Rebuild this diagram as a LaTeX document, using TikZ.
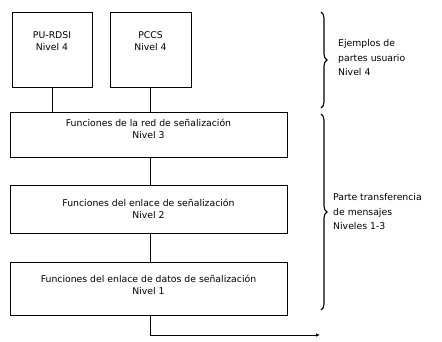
\documentclass[tikz,border=0pt]{standalone}
\usepackage{fontspec}
\setmainfont{DejaVu Sans}
\usetikzlibrary{decorations.pathreplacing,arrows.meta}
\begin{document}
\begin{tikzpicture}[x=1pt,y=-1pt,
  box/.style={draw,line width=0.9pt,rectangle,inner sep=0pt},
  lbl/.style={font=\fontsize{9.3}{12.5}\selectfont,align=center,inner sep=0pt},
  side/.style={font=\fontsize{9.3}{14.5}\selectfont,align=left,anchor=west,inner sep=0pt},
  conn/.style={line width=0.9pt},
  brc/.style={decorate,decoration={brace,amplitude=6pt},line width=1.1pt}]
\useasboundingbox (0,0) rectangle (442,341);
% boxes
\node[box,minimum width=80pt,minimum height=75pt] (pu) at (52,49.5) {};
\node[box,minimum width=81pt,minimum height=75pt] (pccs) at (150.5,49.5) {};
\node[box,minimum width=277pt,minimum height=45pt] (n3) at (148.5,134.5) {};
\node[box,minimum width=277pt,minimum height=48pt] (n2) at (148.5,209) {};
\node[box,minimum width=277pt,minimum height=53pt] (n1) at (148.5,288.5) {};
% texts
\node[lbl] (tpu) at (52,41) {PU-RDSI\\Nivel 4};
\node[lbl] (tpccs) at (150.5,41) {PCCS\\Nivel 4};
\node[lbl] (tn3) at (148.5,129) {Funciones de la red de señalización\\Nivel 3};
\node[lbl] (tn2) at (148.5,209) {Funciones del enlace de señalización\\Nivel 2};
\node[lbl] (tn1) at (148.5,285) {Funciones del enlace de datos de señalización\\Nivel 1};
% connectors
\draw[conn] (pu.south) -- (pu.south |- n3.north);
\draw[conn] (pccs.south) -- (pccs.south |- n3.north);
\draw[conn] (n3.south -| pccs.south) -- (n2.north -| pccs.south);
\draw[conn] (n2.south -| pccs.south) -- (n1.north -| pccs.south);
\coordinate (out) at (320,335);
\draw[conn,-{Latex[length=4pt,width=3.5pt]}] (n1.south -| pccs.south) |- (out);
% braces
\coordinate (b1a) at (321,12);
\coordinate (b1b) at (321,108);
\coordinate (b2a) at (321,114);
\coordinate (b2b) at (321,310);
\draw[brc] (b1a) -- (b1b);
\draw[brc] (b2a) -- (b2b);
\node[side] (e1) at (338,58) {Ejemplos de\\partes usuario\\Nivel 4};
\node[side] (e2) at (333,212) {Parte transferencia\\de mensajes\\Niveles 1-3};
\end{tikzpicture}
\end{document}
